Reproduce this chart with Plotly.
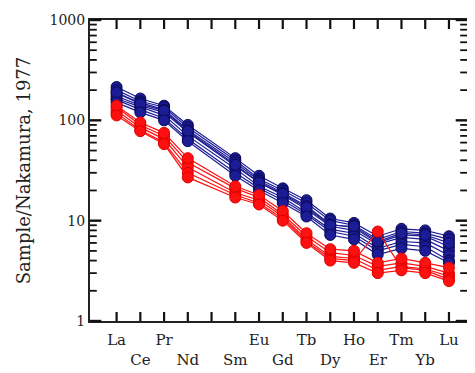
import math
import plotly.graph_objects as go

elements = ["La", "Ce", "Pr", "Nd", "Pm", "Sm", "Eu", "Gd", "Tb", "Dy", "Ho", "Er", "Tm", "Yb", "Lu"]
# two-row tick labels (even positions on the upper row, odd on the lower row, Pm unlabeled)
tick_text = ["La", "<br>Ce", "Pr", "<br>Nd", " ", "<br>Sm", "Eu", "<br>Gd", "Tb", "<br>Dy", "Ho", "<br>Er", "Tm", "<br>Yb", "Lu"]

blue_1 = [215, 165, 140, 90, None, 42, 28, 21, 16, 10.5, 9.5, 7.0, 8.3, 8.0, 7.0]
blue_2 = [200, 155, 135, 85, None, 40, 26, 20, 15, 10.0, 9.0, 6.5, 7.8, 7.5, 6.5]
blue_3 = [185, 150, 128, 80, None, 38, 25, 19, 14, 9.2, 8.5, 6.0, 7.2, 7.0, 5.5]
blue_4 = [175, 140, 120, 76, None, 35, 24, 18, 13, 8.8, 8.0, 5.8, 6.8, 6.5, 5.0]
blue_5 = [165, 135, 112, 70, None, 33, 22, 17, 12, 8.2, 7.5, 5.3, 6.2, 6.0, 4.5]
blue_6 = [160, 128, 105, 65, None, 30, 21, 16, 11.5, 7.8, 7.0, 5.0, 5.8, 5.5, 4.0]
blue_7 = [190, 145, 125, 78, None, 36, 24, 18.5, 13.5, 9.0, 8.8, 6.2, 7.5, 7.2, 6.0]
blue_8 = [150, 120, 100, 62, None, 28, 20, 15, 11, 7.2, 6.5, 4.6, 5.3, 5.0, 3.8]

red_1 = [135, 90, 70, 38, None, 21, 17, 11.5, 7.0, 4.8, 4.5, 3.5, 3.8, 3.5, 3.0]
red_2 = [125, 85, 65, 34, None, 19, 16, 11.0, 6.5, 4.4, 4.2, 3.2, 3.5, 3.3, 2.8]
red_3 = [118, 80, 60, 30, None, 18, 15, 10.5, 6.2, 4.2, 4.0, 7.8, 3.4, 3.2, 2.6]
red_4 = [140, 95, 75, 42, None, 22, 18, 12.5, 7.5, 5.2, 5.0, 3.8, 4.2, 3.8, 3.4]
red_5 = [112, 78, 58, 27, None, 17, 14.5, 10.0, 6.0, 4.0, 3.8, 3.0, 3.2, 3.0, 2.5]

blue_series = [blue_1, blue_2, blue_3, blue_4, blue_5, blue_6, blue_7, blue_8]
red_series = [red_1, red_2, red_3, red_4, red_5]

y_major = [1, 10, 100, 1000]
y_minor = [2, 3, 4, 5, 6, 7, 8, 9, 20, 30, 40, 50, 60, 70, 80, 90, 200, 300, 400, 500, 600, 700, 800, 900]
y_range_log = [0, 3]

fig = go.Figure()
for s in blue_series:
    fig.add_trace(go.Scatter(
        x=tick_text, y=s, mode="lines+markers", connectgaps=True,
        line=dict(color="#1c1c96", width=1.2),
        marker=dict(symbol="circle", size=11, color="#1c1c96", line=dict(color="#0a0a55", width=1)),
        showlegend=False))
for s in red_series:
    fig.add_trace(go.Scatter(
        x=tick_text, y=s, mode="lines+markers", connectgaps=True,
        line=dict(color="#ff1010", width=1.2),
        marker=dict(symbol="circle", size=11, color="#ff1010", line=dict(color="#e00000", width=1)),
        showlegend=False))

# inside tick marks on all four sides (domain-relative lengths)
tick_col = "#111"
x_len, y_major_len, y_minor_len = 0.03, 0.03, 0.018
shapes = []
for i in range(len(elements)):
    for y0, y1 in ((0, x_len), (1, 1 - x_len)):
        shapes.append(dict(type="line", xref="x", yref="y domain", x0=i, x1=i, y0=y0, y1=y1,
                           line=dict(color=tick_col, width=2.2), layer="above"))

def y_frac(v):
    return (math.log10(v) - y_range_log[0]) / (y_range_log[1] - y_range_log[0])

for vals, ln, w in ((y_major, y_major_len, 2.4), (y_minor, y_minor_len, 1.8)):
    for v in vals:
        f = y_frac(v)
        for x0, x1 in ((0, ln), (1, 1 - ln)):
            shapes.append(dict(type="line", xref="x domain", yref="y domain", x0=x0, x1=x1, y0=f, y1=f,
                               line=dict(color=tick_col, width=w), layer="above"))

serif = "DejaVu Serif"
fig.update_layout(
    width=467, height=365,
    margin=dict(l=82, r=8, t=12, b=52),
    paper_bgcolor="white", plot_bgcolor="white",
    font=dict(family=serif, size=14, color="#222"),
    shapes=shapes,
    xaxis=dict(
        type="category", categoryorder="array", categoryarray=tick_text,
        range=[-1.12, 14.76], ticks="",
        showline=True, linecolor="#222", linewidth=2, mirror=True,
        showgrid=False, zeroline=False, automargin=False, ticklabelstandoff=4,
        tickfont=dict(family=serif, size=15, color="#222"), tickangle=0),
    yaxis=dict(
        type="log", range=y_range_log, dtick=1, exponentformat="none", ticks="",
        showline=True, linecolor="#222", linewidth=2, mirror=True,
        showgrid=False, zeroline=False, automargin=False,
        tickfont=dict(family=serif, size=14, color="#222"),
        title=dict(text="Sample/Nakamura, 1977", font=dict(family=serif, size=18, color="#222"), standoff=14)),
)

fig.write_html("out.html")
